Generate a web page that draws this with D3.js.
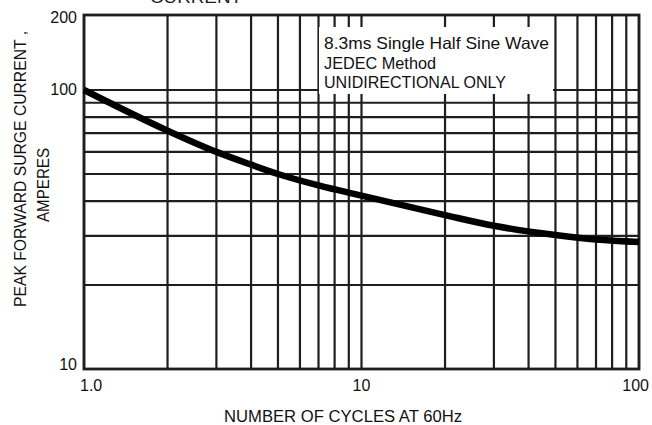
<!DOCTYPE html>
<html>
<head>
<meta charset="utf-8">
<script src="https://cdn.jsdelivr.net/npm/d3@7"></script>
<style>
  html, body { margin: 0; padding: 0; background: #fff; }
  svg { display: block; font-family: "Liberation Sans", Arial, sans-serif; }
</style>
</head>
<body>
<svg id="chart" width="652" height="425"></svg>
<script>
// ---- data ----
const cycles  = [1, 2, 3, 4, 5, 7, 10, 20, 30, 50, 70, 100];
const current = [100, 71.5, 60, 54, 50, 45.5, 41.8, 35.6, 32.6, 30.2, 29.1, 28.5];

const xGrid = [1, 2, 3, 4, 5, 6, 7, 8, 9, 10, 20, 30, 40, 50, 60, 70, 80, 90, 100];
const yGrid = [10, 20, 30, 40, 50, 60, 70, 80, 90, 100, 200];
const xTickLabels = [1, 10, 100];
const xTickText = ["1.0", "10", "100"];
const yTickLabels = [200, 100, 10];
const yTickText = ["200", "100", "10"];
const noteLines = ["8.3ms Single Half Sine Wave", "JEDEC Method", "UNIDIRECTIONAL ONLY"];

// ---- layout ----
const L = 84, R = 639, T = 15, B = 369;
const ink = "#1e1e1e";

const svg = d3.select("#chart");
const x = d3.scaleLog().domain([1, 100]).range([L, R]);
const y = d3.scaleLog().domain([10, 100, 200]).range([B, 90, T]);

// partial title at top (cropped in original)
svg.append("text").attr("x", 150).attr("y", 3)
  .attr("font-size", 17).attr("textLength", 92).attr("lengthAdjust", "spacingAndGlyphs")
  .attr("fill", ink).text("CURRENT");

// grid
const g = svg.append("g");
g.selectAll("line.vx").data(xGrid).join("line")
  .attr("x1", d => x(d)).attr("x2", d => x(d))
  .attr("y1", T).attr("y2", B)
  .attr("stroke", ink).attr("stroke-width", 2.2);
g.selectAll("line.hy").data(yGrid).join("line")
  .attr("y1", d => y(d)).attr("y2", d => y(d))
  .attr("x1", L).attr("x2", R)
  .attr("stroke", ink).attr("stroke-width", 2.2);

// frame
svg.append("rect").attr("x", L).attr("y", T).attr("width", R - L).attr("height", B - T)
  .attr("fill", "none").attr("stroke", ink).attr("stroke-width", 2.8);

// note box (white background covering the grid)
svg.append("rect").attr("x", 319).attr("y", 27).attr("width", 234).attr("height", 67)
  .attr("fill", "#fff");
const noteLen = [225, 112, 182];
noteLines.forEach((t, i) => {
  svg.append("text").attr("x", 324).attr("y", 49 + i * 19.5)
    .attr("font-size", 16.5).attr("fill", "#111")
    .attr("textLength", noteLen[i]).attr("lengthAdjust", "spacingAndGlyphs")
    .text(t);
});

// curve
const pts = cycles.map((c, i) => [c, current[i]]);
svg.append("path").datum(pts)
  .attr("d", d3.line().x(d => x(d[0])).y(d => y(d[1])).curve(d3.curveMonotoneX))
  .attr("fill", "none").attr("stroke", "#000").attr("stroke-width", 6.5)
  .attr("stroke-linecap", "butt");

// y tick labels
const yOff = {200: 4, 100: 1, 10: -3};
svg.selectAll("text.yt").data(yTickLabels).join("text")
  .attr("x", 77).attr("y", d => y(d) + yOff[d])
  .attr("text-anchor", "end").attr("dominant-baseline", "middle")
  .attr("font-size", 16).attr("fill", "#111")
  .text((d, i) => yTickText[i]);

// x tick labels
const xAnchor = ["start", "middle", "end"];
const xDx = [-4, 0, 10];
svg.selectAll("text.xt").data(xTickLabels).join("text")
  .attr("x", (d, i) => x(d) + xDx[i]).attr("y", 391)
  .attr("text-anchor", (d, i) => xAnchor[i])
  .attr("font-size", 16).attr("fill", "#111")
  .text((d, i) => xTickText[i]);

// axis titles
svg.append("text").attr("x", 224).attr("y", 422)
  .attr("font-size", 16).attr("fill", "#111")
  .attr("textLength", 238).attr("lengthAdjust", "spacingAndGlyphs")
  .text("NUMBER OF CYCLES AT 60Hz");

svg.append("text").attr("transform", "translate(26,169) rotate(-90)")
  .attr("text-anchor", "middle").attr("font-size", 16).attr("fill", "#111")
  .attr("textLength", 276).attr("lengthAdjust", "spacingAndGlyphs")
  .text("PEAK FORWARD SURGE CURRENT ,");
svg.append("text").attr("transform", "translate(49,185) rotate(-90)")
  .attr("text-anchor", "middle").attr("font-size", 16).attr("fill", "#111")
  .attr("textLength", 74).attr("lengthAdjust", "spacingAndGlyphs")
  .text("AMPERES");
</script>
</body>
</html>
